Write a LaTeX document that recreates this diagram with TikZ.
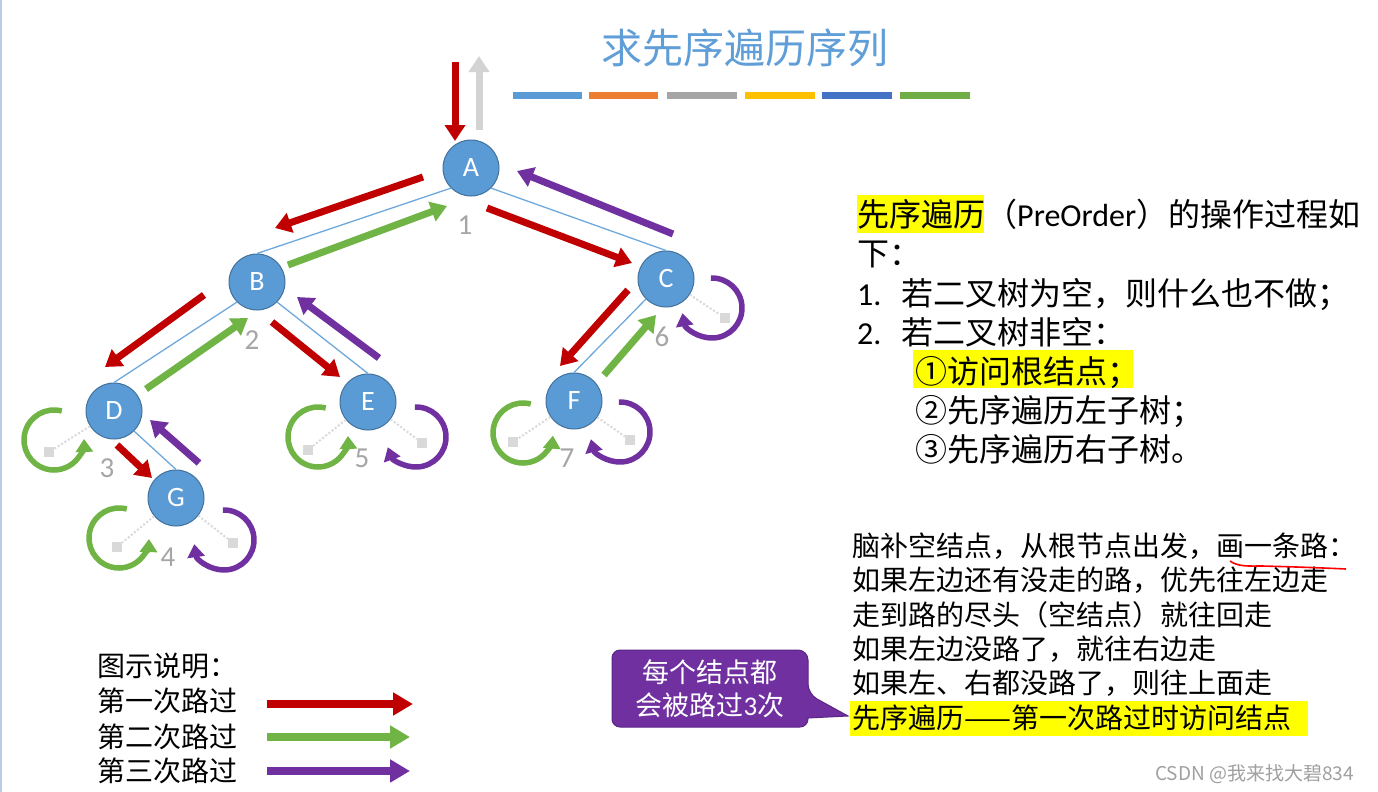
\documentclass[tikz,border=0pt]{standalone}
\usepackage{fontspec}
\setmainfont{Noto Sans CJK SC}
\newfontfamily\carl{Carlito}
\usetikzlibrary{arrows.meta,calc}
\definecolor{tred}{HTML}{C00000}
\definecolor{tgreen}{HTML}{70B445}
\definecolor{tpurple}{HTML}{7030A0}
\definecolor{tgreyarrow}{HTML}{D3D3D3}
\definecolor{nodefill}{HTML}{5B9BD5}
\definecolor{nodeline}{HTML}{41719C}
\definecolor{edgeblue}{HTML}{6FA8DC}
\definecolor{labgrey}{HTML}{A6A6A6}
\definecolor{nullgrey}{HTML}{D9D9D9}
\definecolor{titleblue}{HTML}{5F9ED6}
\definecolor{barA}{HTML}{5B9BD5}
\definecolor{barB}{HTML}{ED7D31}
\definecolor{barC}{HTML}{A5A5A5}
\definecolor{barD}{HTML}{FFC000}
\definecolor{barE}{HTML}{4472C4}
\definecolor{barF}{HTML}{70AD47}
\definecolor{hilite}{HTML}{FFFF00}
\definecolor{calloutfill}{HTML}{7030A0}
\definecolor{calloutline}{HTML}{5A2585}
\definecolor{leftedge}{HTML}{B9CDE8}
\definecolor{wmgrey}{HTML}{A0A0A0}
\begin{document}
\begin{tikzpicture}[x=1pt,y=1pt,
  tnode/.style={circle,fill=nodefill,draw=nodeline,line width=1pt,minimum size=56pt,inner sep=0pt,text=white,font=\carl\fontsize{28}{28}\selectfont},
  edgeline/.style={draw=edgeblue,line width=1.3pt},
  fat/.style={line width=7pt,-{Triangle[length=16pt,width=20pt]}},
  rA/.style={fat,draw=tred},
  gA/.style={fat,draw=tgreen},
  pA/.style={fat,draw=tpurple},
  lp/.style={line width=5.5pt,-{Triangle[length=13pt,width=17pt]}},
  nullsq/.style={rectangle,fill=nullgrey,minimum size=10pt,inner sep=0pt},
  dotl/.style={draw=nullgrey,line width=2pt,dotted},
  numlab/.style={text=labgrey,font=\carl\fontsize{29}{29}\selectfont},
  rtxt/.style={anchor=base west,inner sep=0pt,font=\fontsize{32}{38}\selectfont},
  ltxt/.style={anchor=base west,inner sep=0pt,font=\fontsize{28}{34}\selectfont},
  bar/.style={line width=7pt},
  legarrow/.style={line width=8pt,-{Triangle[length=20pt,width=22pt]}}
]
\useasboundingbox (0,0) rectangle (1378,-792);
\fill[white] (0,0) rectangle (1378,-792);
\draw[leftedge,line width=1.5pt] (0.75,0) -- (0.75,-792);

% title and colour bars
\node[font=\fontsize{41}{41}\selectfont,text=titleblue] (title) at (745,-48) {求先序遍历序列};
\draw[bar,barA] (513,-95) -- (582,-95);
\draw[bar,barB] (589,-95) -- (658,-95);
\draw[bar,barC] (667,-95) -- (737,-95);
\draw[bar,barD] (745,-95) -- (815,-95);
\draw[bar,barE] (822,-95) -- (892,-95);
\draw[bar,barF] (900,-95) -- (970,-95);

% tree nodes
\node[tnode] (A) at (471,-168) {A};
\node[tnode] (B) at (257,-282) {B};
\node[tnode] (C) at (666,-279) {C};
\node[tnode] (D) at (114,-411) {D};
\node[tnode] (E) at (368,-402) {E};
\node[tnode] (F) at (574,-401) {F};
\node[tnode] (G) at (176,-498) {G};

% edges
\draw[edgeline] (A.south west) -- (B.north);
\draw[edgeline] (A.south east) -- (C.north);
\draw[edgeline] (B.south west) -- (D.north);
\draw[edgeline] (B.south east) -- (E.north);
\draw[edgeline] (D.south east) -- (G.north);
\draw[edgeline] (C.south west) -- (F.north);

% null nodes
\node[nullsq] (nDl) at (49,-452) {};
\node[nullsq] (nGl) at (117,-547) {};
\node[nullsq] (nGr) at (233,-543) {};
\node[nullsq] (nEl) at (308,-450) {};
\node[nullsq] (nEr) at (422,-443) {};
\node[nullsq] (nFl) at (513,-442) {};
\node[nullsq] (nFr) at (630,-440) {};
\node[nullsq] (nCr) at (725,-318) {};
\draw[dotl] (D) -- (nDl);
\draw[dotl] (G) -- (nGl);
\draw[dotl] (G) -- (nGr);
\draw[dotl] (E) -- (nEl);
\draw[dotl] (E) -- (nEr);
\draw[dotl] (F) -- (nFl);
\draw[dotl] (F) -- (nFr);
\draw[dotl] (C) -- (nCr);

% entry / exit arrows
\draw[rA] (455,-62) -- (455,-141);
\draw[fat,draw=tgreyarrow] (479,-130) -- (479,-56);

% first pass (red)
\draw[rA] (423,-177) -- (275,-228);
\draw[rA] (487,-208) -- (632,-263);
\draw[rA] (204,-295) -- (105,-367);
\draw[rA] (272,-322) -- (340,-377);
\draw[rA] (117,-445) -- (152,-478);
\draw[rA] (628,-290) -- (560,-366);
% second pass (green)
\draw[gA] (288,-265) -- (447,-206);
\draw[gA] (146,-389) -- (248,-318);
\draw[gA] (604,-375) -- (656,-315);
% third pass (purple)
\draw[pA] (673,-234) -- (517,-171);
\draw[pA] (379,-358) -- (297,-297);
\draw[pA] (199,-463) -- (150,-420);

% loops round the empty children
\draw[lp,draw=tgreen] ([shift={(75:30)}]54,-440) arc[start angle=75,end angle=362,radius=30];
\draw[lp,draw=tgreen] ([shift={(75:30)}]119,-538) arc[start angle=75,end angle=358,radius=30];
\draw[lp,draw=tgreen] ([shift={(75:30)}]318,-437) arc[start angle=75,end angle=362,radius=30];
\draw[lp,draw=tgreen] ([shift={(75:30)}]523,-433) arc[start angle=75,end angle=355,radius=30];
\draw[lp,draw=tpurple] ([shift={(92:30)}]224,-540) arc[start angle=92,end angle=-172,radius=30];
\draw[lp,draw=tpurple] ([shift={(92:30)}]416,-437) arc[start angle=92,end angle=-160,radius=30];
\draw[lp,draw=tpurple] ([shift={(92:30)}]620,-432) arc[start angle=92,end angle=-166,radius=30];
\draw[lp,draw=tpurple] ([shift={(92:30)}]712,-308) arc[start angle=92,end angle=-170,radius=30];

% visit numbers
\node[numlab] (n1) at (465,-225) {1};
\node[numlab] (n2) at (252,-340) {2};
\node[numlab] (n3) at (107,-468) {3};
\node[numlab] (n4) at (168,-557) {4};
\node[numlab] (n5) at (362,-458) {5};
\node[numlab] (n6) at (662,-337) {6};
\node[numlab] (n7) at (567,-458) {7};

% right text block
\fill[hilite] (857,-195) rectangle (984,-233);
\fill[hilite] (913,-350) rectangle (1133,-388);
\node[rtxt] (r1) at (857,-226) {先序遍历（{\carl PreOrder}）的操作过程如};
\node[rtxt] (r2) at (857,-265) {下：};
\node[rtxt] (r3a) at (857,-305) {\carl 1.};
\node[rtxt] (r3) at (901,-305) {若二叉树为空，则什么也不做；};
\node[rtxt] (r4a) at (857,-344) {\carl 2.};
\node[rtxt] (r4) at (901,-344) {若二叉树非空：};
\node[rtxt] (r5) at (915,-383) {①访问根结点；};
\node[rtxt] (r6) at (915,-422) {②先序遍历左子树；};
\node[rtxt] (r7) at (915,-461) {③先序遍历右子树。};

% lower right text
\fill[hilite] (850,-701) rectangle (1308,-736);
\node[ltxt] (s1) at (852,-556) {脑补空结点，从根节点出发，画一条路：};
\node[ltxt] (s2) at (852,-590) {如果左边还有没走的路，优先往左边走};
\node[ltxt] (s3) at (852,-625) {走到路的尽头（空结点）就往回走};
\node[ltxt] (s4) at (852,-659) {如果左边没路了，就往右边走};
\node[ltxt] (s5) at (852,-693) {如果左、右都没路了，则往上面走};
\node[ltxt] (s6) at (852,-728) {先序遍历——第一次路过时访问结点};
\draw[red,line width=1.6pt] (1230,-561) .. controls (1238,-567) and (1250,-566) .. (1262,-566) .. controls (1300,-567) and (1325,-568) .. (1346,-569);

% callout
\filldraw[fill=calloutfill,draw=calloutline,line width=1pt,rounded corners=10pt]
  (612,-650) -- (808,-650) -- (808,-694) [sharp corners] -- (848,-716) -- (808,-718) [rounded corners=8pt] -- (808,-727) -- (612,-727) -- cycle;
\node[text=white,align=center,font=\fontsize{27}{33}\selectfont] (co) at (710,-689) {每个结点都\\会被路过{\carl 3}次};

% legend
\node[ltxt] (g0) at (97,-676) {图示说明：};
\node[ltxt] (g1) at (97,-711) {第一次路过};
\node[ltxt] (g2) at (97,-747) {第二次路过};
\node[ltxt] (g3) at (97,-781) {第三次路过};
\coordinate (l1s) at (267,-704);
\coordinate (l1e) at (413,-704);
\coordinate (l2s) at (267,-737);
\coordinate (l2e) at (410,-737);
\coordinate (l3s) at (267,-771);
\coordinate (l3e) at (410,-771);
\draw[legarrow,draw=tred] (l1s) -- (l1e);
\draw[legarrow,draw=tgreen] (l2s) -- (l2e);
\draw[legarrow,draw=tpurple] (l3s) -- (l3e);

% watermark
\node[anchor=base west,inner sep=0pt,text=wmgrey,font=\fontsize{19}{19}\selectfont] (wm) at (1155,-780) {CSDN @我来找大碧834};
\end{tikzpicture}
\end{document}
